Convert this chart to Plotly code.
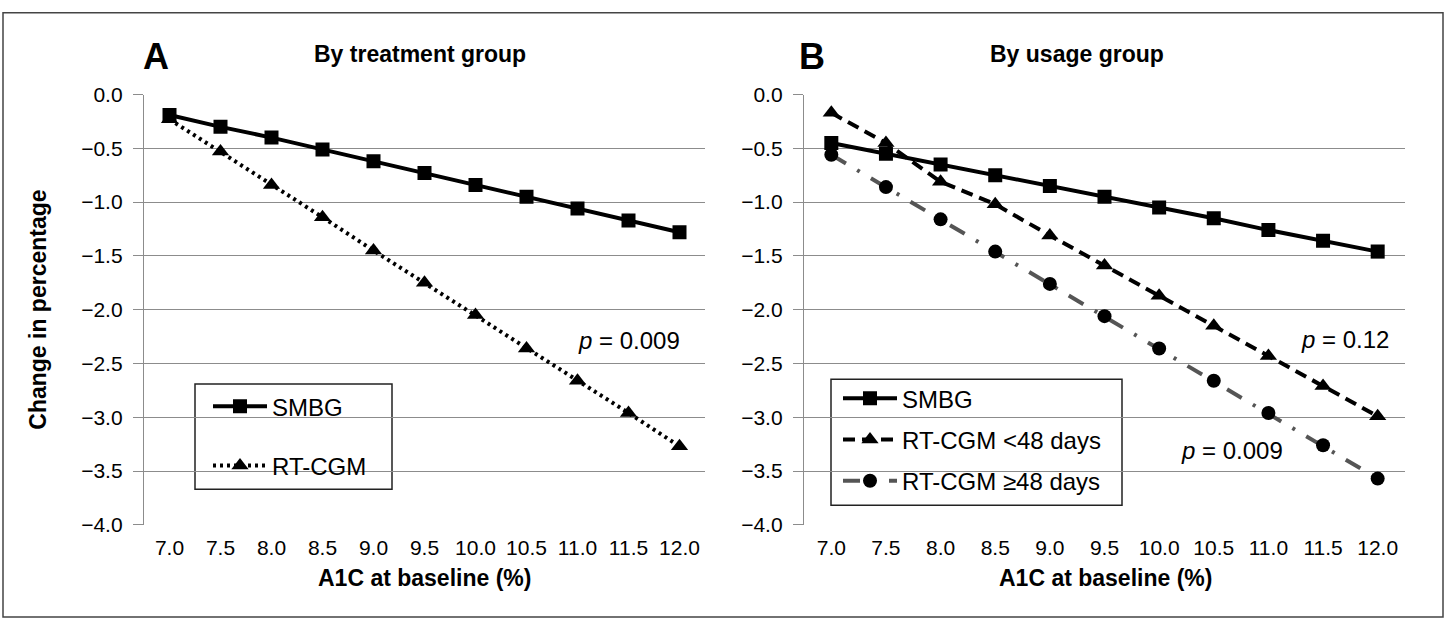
import plotly.graph_objects as go

# ---------------- data ----------------
a1c_baseline = ["7.0", "7.5", "8.0", "8.5", "9.0", "9.5", "10.0", "10.5", "11.0", "11.5", "12.0"]

# Panel A: by treatment group
a_smbg = [-0.19, -0.30, -0.40, -0.51, -0.62, -0.73, -0.84, -0.95, -1.06, -1.17, -1.28]
a_rtcgm = [-0.23, -0.53, -0.84, -1.14, -1.45, -1.75, -2.05, -2.36, -2.66, -2.96, -3.27]

# Panel B: by usage group
b_smbg = [-0.45, -0.55, -0.65, -0.75, -0.85, -0.95, -1.05, -1.15, -1.26, -1.36, -1.46]
b_rtcgm_lt48 = [-0.17, -0.45, -0.81, -1.02, -1.31, -1.59, -1.87, -2.15, -2.43, -2.71, -2.99]
b_rtcgm_ge48 = [-0.56, -0.86, -1.16, -1.46, -1.76, -2.06, -2.36, -2.66, -2.96, -3.26, -3.57]

y_ticks = [0.0, -0.5, -1.0, -1.5, -2.0, -2.5, -3.0, -3.5, -4.0]

# ---------------- layout helpers ----------------
W, H = 1447, 629
def px(x):
    return x / W
def py(y):
    return 1 - y / H

FONT = "Liberation Sans, Arial, Helvetica, sans-serif"
GRID = "#8c8c8c"

fig = go.Figure()

# Panel A traces
fig.add_trace(go.Scatter(
    x=a1c_baseline, y=a_smbg, name="SMBG", mode="lines+markers",
    line=dict(color="black", width=4), marker=dict(symbol="square", size=14, color="black"),
    xaxis="x", yaxis="y", legend="legend", legendgroup="a1"))
fig.add_trace(go.Scatter(
    x=a1c_baseline, y=a_rtcgm, name="RT-CGM", mode="lines+markers",
    line=dict(color="black", width=4, dash="3px,4px"),
    marker=dict(symbol="triangle-up", size=15, color="black"),
    xaxis="x", yaxis="y", legend="legend", legendgroup="a2"))

# Panel B traces
fig.add_trace(go.Scatter(
    x=a1c_baseline, y=b_smbg, name="SMBG", mode="lines+markers",
    line=dict(color="black", width=4), marker=dict(symbol="square", size=14, color="black"),
    xaxis="x2", yaxis="y2", legend="legend2", legendgroup="b1"))
fig.add_trace(go.Scatter(
    x=a1c_baseline, y=b_rtcgm_lt48, name="RT-CGM <48 days", mode="lines+markers",
    line=dict(color="black", width=4, dash="12px,7px"),
    marker=dict(symbol="triangle-up", size=15, color="black"),
    xaxis="x2", yaxis="y2", legend="legend2", legendgroup="b2"))
fig.add_trace(go.Scatter(
    x=a1c_baseline, y=b_rtcgm_ge48, name="RT-CGM ≥48 days", mode="lines+markers",
    line=dict(color="#555555", width=4, dash="17px,13px,3px,13px"),
    marker=dict(symbol="circle", size=14, color="black"),
    xaxis="x2", yaxis="y2", legend="legend2", legendgroup="b3"))

PLOT_TOP, PLOT_BOTTOM = 85.7, 532.3

xaxis_common = dict(
    type="category", showgrid=False, zeroline=False, showline=False, ticks="",
    tickfont=dict(family=FONT, size=21, color="black"), range=[-0.5, 10.5],
    ticklabelstandoff=8, fixedrange=True,
)
yaxis_common = dict(
    range=[-4.0, 0.0], tickvals=y_ticks, tickformat=".1f",
    showgrid=True, gridcolor=GRID, gridwidth=1.3,
    ticks="outside", ticklen=10, tickcolor=GRID, tickwidth=1.3,
    showline=True, linecolor=GRID, linewidth=1.3, zeroline=False,
    tickfont=dict(family=FONT, size=21, color="black"), ticklabelstandoff=6,
    domain=[py(PLOT_BOTTOM), py(PLOT_TOP)], fixedrange=True,
)

legend_common = dict(
    bgcolor="rgba(0,0,0,0)", borderwidth=0, xanchor="left", yanchor="top",
    traceorder="grouped", font=dict(family=FONT, size=24, color="black"),
)

fig.update_layout(
    width=W, height=H, margin=dict(l=0, r=0, t=0, b=0),
    paper_bgcolor="white", plot_bgcolor="white",
    xaxis=dict(domain=[px(144), px(705)], anchor="y", **xaxis_common),
    yaxis=dict(anchor="x", **yaxis_common),
    xaxis2=dict(domain=[px(804), px(1405)], anchor="y2", **xaxis_common),
    yaxis2=dict(anchor="x2", **yaxis_common),
    legend=dict(x=px(208), y=py(386.4), itemwidth=54, tracegroupgap=25, **legend_common),
    legend2=dict(x=px(838), y=py(378.1), itemwidth=54, tracegroupgap=7, **legend_common),
    showlegend=True,
)

shapes = [
    # outer frame
    dict(type="rect", xref="paper", yref="paper", x0=px(3), x1=px(1443), y0=py(628), y1=py(0.8),
         line=dict(color="#444444", width=1.5), fillcolor="rgba(0,0,0,0)", layer="above"),
    # white areas around the legends (gridlines interrupted)
    dict(type="rect", xref="paper", yref="paper", x0=px(162), x1=px(419), y0=py(505), y1=py(400),
         line=dict(width=0), fillcolor="white", layer="between"),
    dict(type="rect", xref="paper", yref="paper", x0=px(815), x1=px(1134), y0=py(505), y1=py(400),
         line=dict(width=0), fillcolor="white", layer="between"),
    # legend frames
    dict(type="rect", xref="paper", yref="paper", x0=px(195), x1=px(392), y0=py(495.4), y1=py(386),
         line=dict(color="#222222", width=1.5), fillcolor="white", layer="between"),
    dict(type="rect", xref="paper", yref="paper", x0=px(831), x1=px(1122), y0=py(511.9), y1=py(381.1),
         line=dict(color="#222222", width=1.5), fillcolor="white", layer="between"),
]

def ann(text, x, y, size, bold=False, angle=0):
    return dict(text=f"<b>{text}</b>" if bold else text, x=px(x), y=py(y), xref="paper", yref="paper",
                showarrow=False, xanchor="center", yanchor="middle", textangle=angle,
                font=dict(family=FONT, size=size, color="black"))

annotations = [
    ann("A", 156, 46, 36, bold=True),
    ann("B", 812, 46, 36, bold=True),
    ann("By treatment group", 420, 44, 23, bold=True),
    ann("By usage group", 1077, 44, 23, bold=True),
    ann("Change in percentage", 38, 309, 23, bold=True, angle=-90),
    ann("A1C at baseline (%)", 424, 587, 23, bold=True),
    ann("A1C at baseline (%)", 1105, 587, 23, bold=True),
    ann("<i>p</i> = 0.009", 629, 341, 24),
    ann("<i>p</i> = 0.12", 1345, 340, 24),
    ann("<i>p</i> = 0.009", 1232, 455, 24),
]

fig.update_layout(shapes=shapes, annotations=annotations)

# pin the figure to the page origin so the page is exactly the figure size
post = ("document.documentElement.style.margin='0';document.body.style.margin='0';"
        "document.documentElement.style.overflow='hidden';document.body.style.overflow='hidden';"
        "var d=document.getElementById('{plot_id}');d.style.position='absolute';"
        "d.style.left='0px';d.style.top='0px';")

fig.write_html("out.html", post_script=post, config={"displayModeBar": False})
